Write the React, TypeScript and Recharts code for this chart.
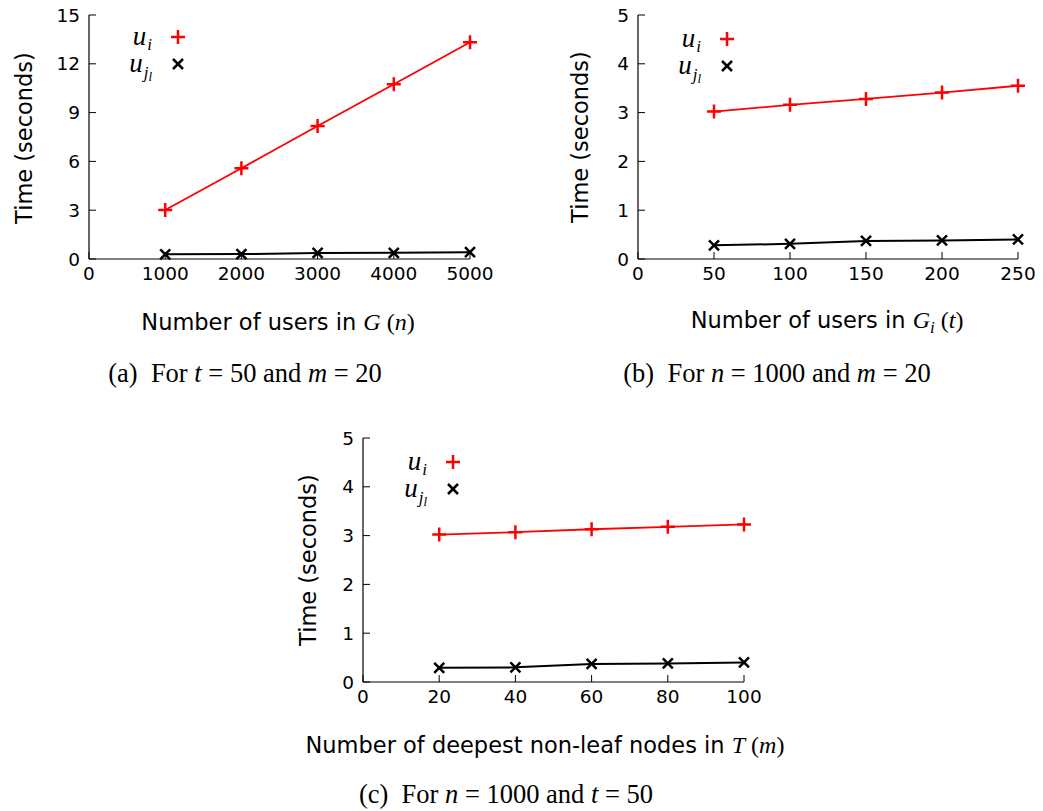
import { LineChart, Line, XAxis, YAxis, Legend } from "recharts";

// (a) time vs number of users in G
const usersInG = [1000, 2000, 3000, 4000, 5000];
const uiByUsersInG = [3.01, 5.58, 8.18, 10.74, 13.32];
const ujlByUsersInG = [0.29, 0.3, 0.37, 0.38, 0.42];

// (b) time vs number of users in G_i
const usersInGi = [50, 100, 150, 200, 250];
const uiByUsersInGi = [3.02, 3.16, 3.28, 3.41, 3.55];
const ujlByUsersInGi = [0.28, 0.31, 0.37, 0.38, 0.4];

// (c) time vs number of deepest non-leaf nodes in T
const deepestNodes = [20, 40, 60, 80, 100];
const uiByDeepestNodes = [3.02, 3.07, 3.13, 3.18, 3.23];
const ujlByDeepestNodes = [0.29, 0.3, 0.37, 0.38, 0.4];

const xTicksA = [0, 1000, 2000, 3000, 4000, 5000];
const yTicksA = [0, 3, 6, 9, 12, 15];
const xTicksB = [0, 50, 100, 150, 200, 250];
const xTicksC = [0, 20, 40, 60, 80, 100];
const yTicksBC = [0, 1, 2, 3, 4, 5];

const SANS = "'DejaVu Sans', sans-serif";
const SERIF = "'Liberation Serif', serif";
const TICK_LEN = 7;
const TICK_GAP = 8;
const TICK_FONT = 18.5;

const toRows = (xs: number[], ui: number[], ujl: number[]) =>
  xs.map((x, i) => ({ x, ui: ui[i], ujl: ujl[i] }));

const XTick = (props: any) => {
  const { x, y, payload } = props;
  const axisY = y - TICK_GAP;
  return (
    <g>
      <line x1={x} x2={x} y1={axisY} y2={axisY - TICK_LEN} stroke="#000" strokeWidth={1} />
      <text x={x} y={axisY + 21} textAnchor="middle" fontFamily={SANS} fontSize={TICK_FONT} fill="#000">
        {payload.value}
      </text>
    </g>
  );
};

const YTick = (props: any) => {
  const { x, y, payload } = props;
  const axisX = x + TICK_GAP;
  return (
    <g>
      <line x1={axisX} x2={axisX + TICK_LEN} y1={y} y2={y} stroke="#000" strokeWidth={1} />
      <text x={axisX - 9} y={y} dy="0.36em" textAnchor="end" fontFamily={SANS} fontSize={TICK_FONT} fill="#000">
        {payload.value}
      </text>
    </g>
  );
};

const plusPath = (cx: number, cy: number) => `M${cx - 7},${cy}h14M${cx},${cy - 7}v14`;
const crossPath = (cx: number, cy: number) => `M${cx - 5},${cy - 5}l10,10M${cx - 5},${cy + 5}l10,-10`;

const PlusDot = (props: any) => (
  <path key={`p${props.index}`} d={plusPath(props.cx, props.cy)} stroke="#ff0000" strokeWidth={2.5} fill="none" />
);
const CrossDot = (props: any) => (
  <path key={`c${props.index}`} d={crossPath(props.cx, props.cy)} stroke="#000" strokeWidth={2.5} fill="none" />
);

// legend labels: u with subscript i, and u with subscript j_l
const SeriesName = ({ name }: { name: string }) => (
  <span style={{ fontFamily: SERIF, fontStyle: "italic", fontSize: 27, lineHeight: 1 }}>
    u
    {name === "ui" ? (
      <span style={{ fontSize: 17, position: "relative", top: 5, marginLeft: 1 }}>i</span>
    ) : (
      <span style={{ fontSize: 17, position: "relative", top: 6, marginLeft: 1 }}>
        j<span style={{ fontSize: 13, position: "relative", top: 3 }}>l</span>
      </span>
    )}
  </span>
);

const LegendBox = (props: any) => {
  const { payload } = props;
  return (
    <div>
      {(payload || []).map((entry: any) => (
        <div key={entry.dataKey} style={{ display: "flex", alignItems: "center", height: 27 }}>
          <div style={{ width: 50, textAlign: "right", whiteSpace: "nowrap", lineHeight: 1 }}>
            <SeriesName name={entry.dataKey} />
          </div>
          <svg width={16} height={16} style={{ marginLeft: 18 }}>
            <path
              d={entry.dataKey === "ui" ? plusPath(8, 8) : crossPath(8, 8)}
              stroke={entry.dataKey === "ui" ? "#ff0000" : "#000"}
              strokeWidth={2.5}
              fill="none"
            />
          </svg>
        </div>
      ))}
    </div>
  );
};

interface PanelProps {
  left: number;
  top: number;
  width: number;
  height: number;
  margin: { top: number; right: number; bottom: number; left: number };
  yAxisWidth: number;
  data: { x: number; ui: number; ujl: number }[];
  xTicks: number[];
  yTicks: number[];
  legendLeft: number;
  legendTop: number;
}

const Panel = (p: PanelProps) => (
  <div style={{ position: "absolute", left: p.left, top: p.top }}>
    <LineChart width={p.width} height={p.height} data={p.data} margin={p.margin}>
      <XAxis
        dataKey="x"
        type="number"
        domain={[p.xTicks[0], p.xTicks[p.xTicks.length - 1]]}
        ticks={p.xTicks}
        interval={0}
        height={30}
        tickSize={0}
        tickMargin={TICK_GAP}
        tickLine={false}
        tick={<XTick />}
        axisLine={{ stroke: "#000", strokeWidth: 1.2 }}
      />
      <YAxis
        type="number"
        domain={[p.yTicks[0], p.yTicks[p.yTicks.length - 1]]}
        ticks={p.yTicks}
        interval={0}
        width={p.yAxisWidth}
        tickSize={0}
        tickMargin={TICK_GAP}
        tickLine={false}
        tick={<YTick />}
        axisLine={{ stroke: "#000", strokeWidth: 1.2 }}
      />
      <Legend
        layout="vertical"
        align="center"
        verticalAlign="middle"
        content={<LegendBox />}
        wrapperStyle={{ left: p.legendLeft, top: p.legendTop, width: "auto" }}
      />
      <Line dataKey="ui" name="ui" stroke="#ff0000" strokeWidth={1.8} dot={PlusDot} isAnimationActive={false} />
      <Line dataKey="ujl" name="ujl" stroke="#000" strokeWidth={2} dot={CrossDot} isAnimationActive={false} />
    </LineChart>
  </div>
);

const titleStyle = { fontFamily: SANS, fontSize: 22.5, fill: "#000" } as const;
const captionStyle = { fontFamily: SERIF, fontSize: 26.5, fill: "#000", whiteSpace: "pre" } as const;
const mathStyle = { fontFamily: SERIF, fontStyle: "italic" } as const;

const App = () => (
  <div style={{ position: "absolute", left: 0, top: 0, width: 1043, height: 811, background: "#fff" }}>
    <Panel
      left={0}
      top={0}
      width={520}
      height={300}
      margin={{ top: 15, right: 50, bottom: 11, left: 0 }}
      yAxisWidth={89}
      data={toRows(usersInG, uiByUsersInG, ujlByUsersInG)}
      xTicks={xTicksA}
      yTicks={yTicksA}
      legendLeft={102}
      legendTop={23}
    />
    <Panel
      left={560}
      top={0}
      width={483}
      height={300}
      margin={{ top: 15, right: 25, bottom: 11, left: 0 }}
      yAxisWidth={78}
      data={toRows(usersInGi, uiByUsersInGi, ujlByUsersInGi)}
      xTicks={xTicksB}
      yTicks={yTicksBC}
      legendLeft={91}
      legendTop={25}
    />
    <Panel
      left={290}
      top={420}
      width={480}
      height={300}
      margin={{ top: 18, right: 26, bottom: 8, left: 0 }}
      yAxisWidth={73}
      data={toRows(deepestNodes, uiByDeepestNodes, ujlByDeepestNodes)}
      xTicks={xTicksC}
      yTicks={yTicksBC}
      legendLeft={87}
      legendTop={28}
    />
    <svg width={1043} height={811} style={{ position: "absolute", left: 0, top: 0, pointerEvents: "none" }}>
      {/* axis titles */}
      <text x={32} y={138} transform="rotate(-90 32 138)" textAnchor="middle" style={titleStyle}>
        Time (seconds)
      </text>
      <text x={588} y={137} transform="rotate(-90 588 137)" textAnchor="middle" style={titleStyle}>
        Time (seconds)
      </text>
      <text x={316} y={560} transform="rotate(-90 316 560)" textAnchor="middle" style={titleStyle}>
        Time (seconds)
      </text>
      <text x={278} y={330} textAnchor="middle" style={titleStyle}>
        Number of users in <tspan style={mathStyle} fontSize={24}>G</tspan>
        <tspan fontFamily={SERIF} fontSize={24}> (</tspan>
        <tspan style={mathStyle} fontSize={24}>n</tspan>
        <tspan fontFamily={SERIF} fontSize={24}>)</tspan>
      </text>
      <text x={827} y={328} textAnchor="middle" style={titleStyle}>
        Number of users in <tspan style={mathStyle} fontSize={24}>G</tspan>
        <tspan style={mathStyle} fontSize={17} dy={5}>i</tspan>
        <tspan fontFamily={SERIF} fontSize={24} dy={-5}> (</tspan>
        <tspan style={mathStyle} fontSize={24}>t</tspan>
        <tspan fontFamily={SERIF} fontSize={24}>)</tspan>
      </text>
      <text x={545} y={753} textAnchor="middle" style={titleStyle}>
        Number of deepest non-leaf nodes in <tspan style={mathStyle} fontSize={24}>T</tspan>
        <tspan fontFamily={SERIF} fontSize={24}> (</tspan>
        <tspan style={mathStyle} fontSize={24}>m</tspan>
        <tspan fontFamily={SERIF} fontSize={24}>)</tspan>
      </text>
      {/* sub-figure captions */}
      <text x={245} y={382} textAnchor="middle" style={captionStyle}>
        {"(a)  For "}<tspan style={mathStyle}>t</tspan>{" = 50 and "}
        <tspan style={mathStyle}>m</tspan>{" = 20"}
      </text>
      <text x={777} y={382} textAnchor="middle" style={captionStyle}>
        {"(b)  For "}<tspan style={mathStyle}>n</tspan>{" = 1000 and "}
        <tspan style={mathStyle}>m</tspan>{" = 20"}
      </text>
      <text x={506} y={803} textAnchor="middle" style={captionStyle}>
        {"(c)  For "}<tspan style={mathStyle}>n</tspan>{" = 1000 and "}
        <tspan style={mathStyle}>t</tspan>{" = 50"}
      </text>
    </svg>
  </div>
);

export default App;
